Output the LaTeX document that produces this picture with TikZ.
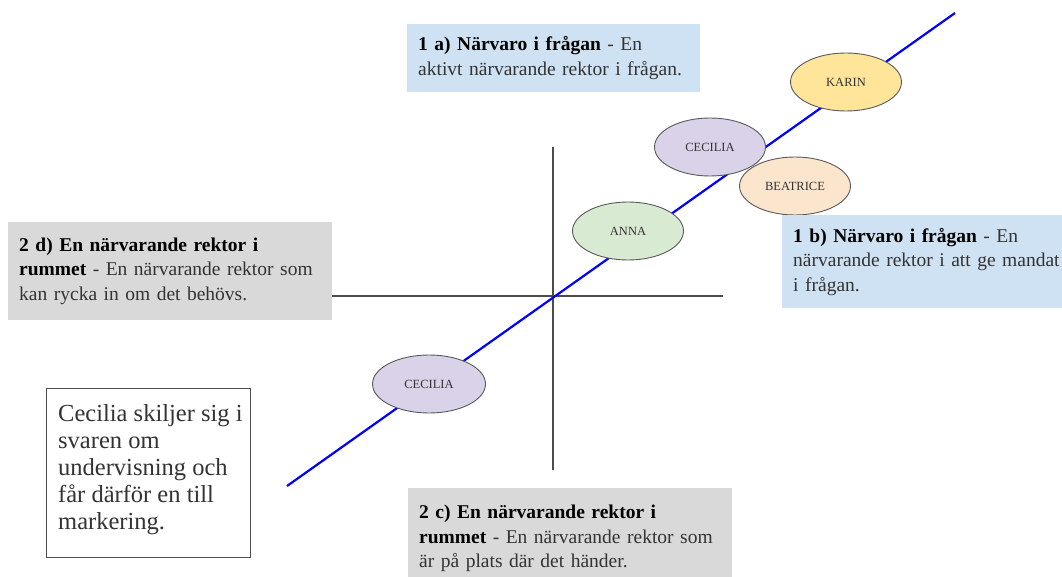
\documentclass[tikz,border=0pt]{standalone}
\usepackage{fontspec}
\setmainfont{Liberation Serif}
\usetikzlibrary{shapes.geometric}

\definecolor{boxblue}{HTML}{CFE2F3}
\definecolor{boxgray}{HTML}{D9D9D9}
\definecolor{yellowfill}{HTML}{FFE599}
\definecolor{lilacfill}{HTML}{D9D2E9}
\definecolor{peachfill}{HTML}{FCE5CD}
\definecolor{mintfill}{HTML}{D9EAD3}
\definecolor{txtgray}{HTML}{333333}

\tikzset{
  infobox/.style={anchor=north west, inner xsep=11pt, inner ysep=0pt, align=left,
    text=txtgray, font=\fontsize{19.5}{24.5}\selectfont},
  person/.style={ellipse, draw=black!65, line width=0.9pt, minimum width=111pt,
    minimum height=58pt, inner sep=0pt, text=txtgray, font=\fontsize{12.5}{14}\selectfont},
  axisline/.style={draw=black!70, line width=1.1pt},
}
\newcommand{\lead}[1]{\textbf{\color{black}#1}}

\begin{document}
\begin{tikzpicture}[x=1pt,y=-1pt]
    \useasboundingbox (0,0) rectangle (1062,577);
    % Draw the two axes of the plane.
    \coordinate (top) at (553,147);
    \coordinate (bottom) at (553,470);
    \coordinate (left) at (328,296);
    \coordinate (right) at (723,296);
    \draw[axisline] (top) -- (bottom);
    \draw[axisline] (left) -- (right);
    % Draw the diagonal line through the origin.
    \coordinate (diagstart) at (287,486);
    \coordinate (diagend) at (955,13);
    \draw[blue, line width=2.2pt] (diagstart) -- (diagend);
    % Draw the people along the line.
    \node[person, fill=yellowfill] (karin) at (846,82) {KARIN};
    \node[person, fill=lilacfill] (ceciliaup) at (710,147) {CECILIA};
    \node[person, fill=peachfill] (beatrice) at (795,186) {BEATRICE};
    \node[person, fill=mintfill] (anna) at (628,231) {ANNA};
    \node[person, fill=lilacfill, minimum width=113pt] (cecilialow) at (429,384) {CECILIA};
    % Draw the quadrant descriptions.
    \node[infobox, fill=boxblue, text width=271pt, minimum height=68pt] (q1a) at (407,24)
      {\lead{1 a) Närvaro i frågan} - En\\ aktivt närvarande rektor i frågan.};
    \node[infobox, fill=boxblue, text width=280pt, minimum height=93pt] (q1b) at (782,215)
      {\lead{1 b) Närvaro i frågan} - En\\ närvarande rektor i att ge mandat\\ i frågan.};
    \node[infobox, fill=boxgray, text width=302pt, minimum height=98pt] (q2d) at (8,222)
      {\lead{2 d) En närvarande rektor i}\\ \lead{rummet} - En närvarande rektor som\\ kan rycka in om det behövs.};
    \node[infobox, fill=boxgray, text width=302pt, minimum height=101pt] (q2c) at (408,488)
      {\lead{2 c) En närvarande rektor i}\\ \lead{rummet} - En närvarande rektor som\\ är på plats där det händer.};
    % Draw the note about Cecilia.
    \node[anchor=north west, draw=black!70, line width=1pt, fill=white,
      minimum width=204pt, minimum height=169pt] (note) at (46,388) {};
    \node[anchor=west, inner sep=0pt, align=left, text=txtgray,
      font=\fontsize{24.5}{27}\selectfont] (notetext) at ([xshift=12pt,yshift=3pt]note.west)
      {Cecilia skiljer sig i\\ svaren om\\ undervisning och\\ får därför en till\\ markering.};
\end{tikzpicture}
\end{document}
